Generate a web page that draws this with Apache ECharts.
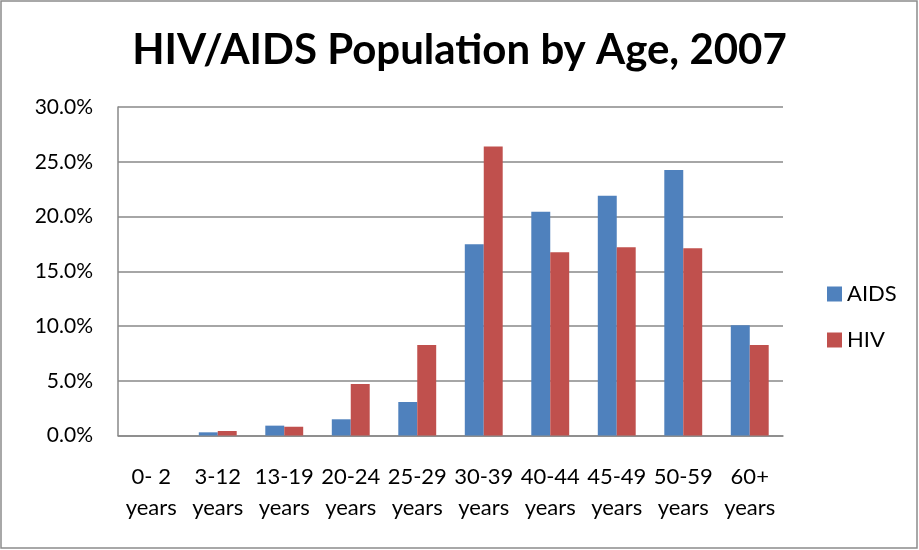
<!DOCTYPE html>
<html><head><meta charset="utf-8">
<script src="https://cdn.jsdelivr.net/npm/echarts@6/dist/echarts.min.js"></script>
<style>html,body{margin:0;padding:0;background:#fff}#c{width:919px;height:550px}</style>
</head><body><div id="c"></div>
<script>
const categories = ['0- 2\nyears','3-12\nyears','13-19\nyears','20-24\nyears','25-29\nyears','30-39\nyears','40-44\nyears','45-49\nyears','50-59\nyears','60+\nyears'];
const aids = [0, 0.29, 0.9, 1.48, 3.06, 17.46, 20.44, 21.9, 24.25, 10.06];
const hiv = [0, 0.41, 0.8, 4.7, 8.26, 26.4, 16.73, 17.19, 17.1, 8.26];
const yTicks = {min: 0, max: 30, interval: 5};
const font = 'Lato, "Open Sans", sans-serif';
const chart = echarts.init(document.getElementById('c'));
chart.setOption({
  animation: false,
  backgroundColor: '#fff',
  title: {text: 'HIV/AIDS Population by Age, 2007', left: 'center', top: 24,
    textStyle: {fontFamily: font, fontWeight: 'bold', fontSize: 42, color: '#000'}},
  graphic: [{type: 'rect', shape: {x: 1, y: 1, width: 916, height: 547},
    style: {fill: 'none', stroke: '#8c8c8c', lineWidth: 1.5}}],
  legend: {orient: 'vertical', left: 822, top: 278, itemWidth: 15, itemHeight: 15, itemGap: 24,
    icon: 'rect', textStyle: {fontFamily: font, fontSize: 22, color: '#000'},
    data: ['AIDS', 'HIV']},
  grid: {left: 118, right: 136, top: 107, bottom: 114.5},
  xAxis: {type: 'category', data: categories,
    axisLine: {lineStyle: {color: '#888', width: 1.5}}, axisTick: {show: false},
    axisLabel: {fontFamily: font, fontSize: 22, color: '#000', margin: 26, lineHeight: 31, interval: 0}},
  yAxis: {type: 'value', min: yTicks.min, max: yTicks.max, interval: yTicks.interval,
    axisLine: {show: true, lineStyle: {color: '#888', width: 1.5}}, axisTick: {show: false},
    splitLine: {lineStyle: {color: '#888', width: 1.5}},
    axisLabel: {fontFamily: font, fontSize: 21, color: '#000', margin: 25,
      formatter: v => v.toFixed(1) + '%'}},
  series: [
    {name: 'AIDS', type: 'bar', data: aids, barGap: '0%', barCategoryGap: '43%',
      itemStyle: {color: '#4F81BD'}},
    {name: 'HIV', type: 'bar', data: hiv, barGap: '0%', barCategoryGap: '43%',
      itemStyle: {color: '#C0504D'}}
  ]
});
</script></body></html>
